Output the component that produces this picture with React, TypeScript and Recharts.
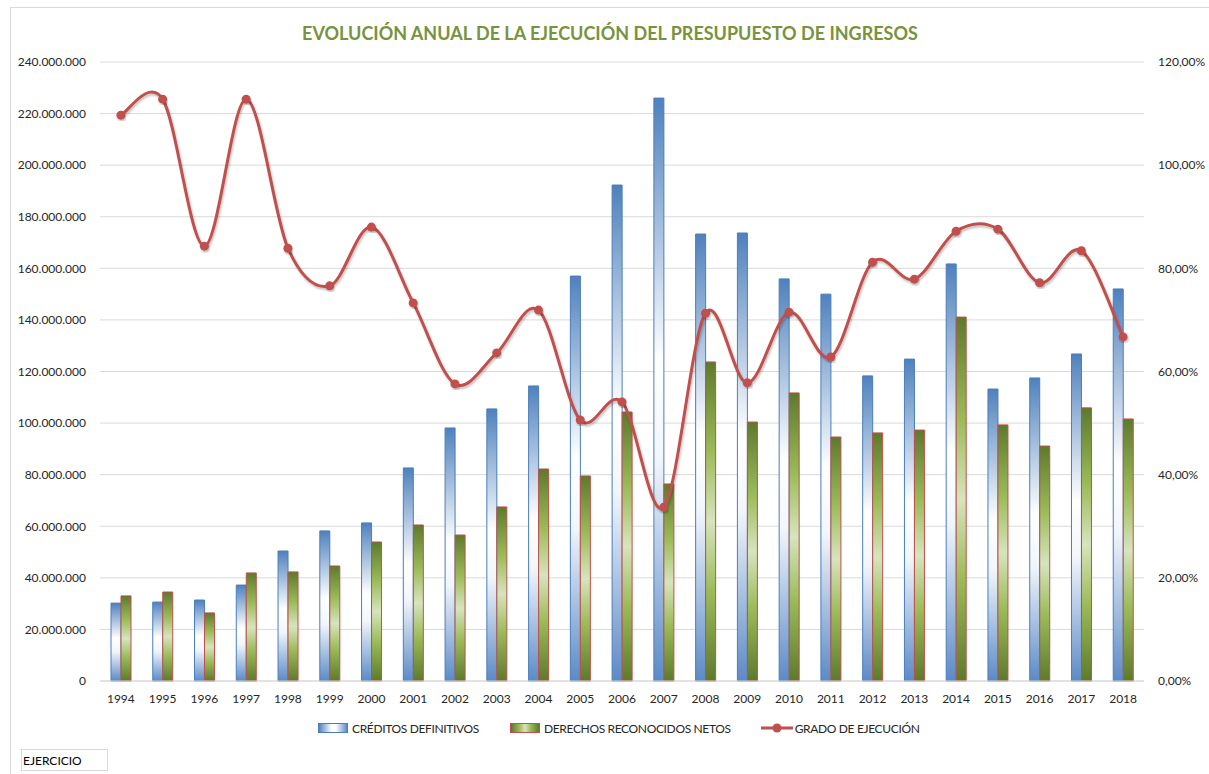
import {
  ComposedChart,
  Bar,
  Line,
  XAxis,
  YAxis,
  CartesianGrid,
  Legend,
} from 'recharts';

const years = [
  '1994', '1995', '1996', '1997', '1998', '1999', '2000', '2001', '2002',
  '2003', '2004', '2005', '2006', '2007', '2008', '2009', '2010', '2011',
  '2012', '2013', '2014', '2015', '2016', '2017', '2018',
];

// créditos definitivos (euros)
const creditos = [
  30200000, 30600000, 31400000, 37200000, 50400000, 58200000, 61300000,
  82600000, 98100000, 105500000, 114400000, 157000000, 192300000, 226000000,
  173300000, 173700000, 155900000, 150000000, 118300000, 124800000, 161700000,
  113200000, 117500000, 126800000, 152000000,
];

// derechos reconocidos netos (euros)
const derechos = [
  33000000, 34500000, 26400000, 41900000, 42300000, 44600000, 53900000,
  60500000, 56600000, 67500000, 82200000, 79500000, 104300000, 76400000,
  123700000, 100400000, 111700000, 94600000, 96200000, 97300000, 141100000,
  99300000, 91100000, 105900000, 101600000,
];

// grado de ejecución (%)
const grado = [
  109.7, 112.8, 84.3, 112.8, 83.9, 76.6, 88.0, 73.3, 57.6, 63.6, 71.9, 50.6,
  54.1, 33.7, 71.3, 57.8, 71.5, 62.8, 81.2, 77.9, 87.2, 87.6, 77.2, 83.4, 66.7,
];

const leftTicks = [0, 20000000, 40000000, 60000000, 80000000, 100000000, 120000000, 140000000, 160000000, 180000000, 200000000, 220000000, 240000000];
const rightTicks = [0, 20, 40, 60, 80, 100, 120];

const data = years.map((y, i) => ({
  year: y,
  creditos: creditos[i],
  derechos: derechos[i],
  grado: grado[i],
}));

const FONT = 'Lato, "Open Sans", sans-serif';
const RED = '#c0504d';

const fmtMiles = (v: number) => String(v).replace(/\B(?=(\d{3})+(?!\d))/g, '.');
const fmtPct = (v: number) => v.toFixed(2).replace('.', ',') + '%';

// suavizado tipo Excel (catmull-rom con tensión 1/6)
const excelSmooth = (context: any) => {
  let xs: number[] = [];
  let ys: number[] = [];
  return {
    areaStart() {},
    areaEnd() {},
    lineStart() {
      xs = [];
      ys = [];
    },
    lineEnd() {
      const n = xs.length;
      if (!n) return;
      context.moveTo(xs[0], ys[0]);
      for (let i = 0; i < n - 1; i++) {
        const a = Math.max(i - 1, 0);
        const d = Math.min(i + 2, n - 1);
        context.bezierCurveTo(
          xs[i] + (xs[i + 1] - xs[a]) / 6,
          ys[i] + (ys[i + 1] - ys[a]) / 6,
          xs[i + 1] - (xs[d] - xs[i]) / 6,
          ys[i + 1] - (ys[d] - ys[i]) / 6,
          xs[i + 1],
          ys[i + 1]
        );
      }
    },
    point(x: number, y: number) {
      xs.push(+x);
      ys.push(+y);
    },
  };
};

const LegendContent = () => (
  <div
    style={{
      display: 'flex',
      alignItems: 'center',
      fontFamily: FONT,
      fontSize: 12,
      letterSpacing: -0.35,
      color: '#262626',
      height: 20,
      whiteSpace: 'nowrap',
    }}
  >
    <span
      style={{
        width: 28,
        height: 8,
        border: '1px solid #4a7ebb',
        background: 'linear-gradient(90deg, #4f81bd, #ffffff 45%, #ffffff 60%, #5b8ac6)',
        marginRight: 4,
      }}
    />
    <span style={{ marginRight: 31 }}>CRÉDITOS DEFINITIVOS</span>
    <span
      style={{
        width: 28,
        height: 8,
        border: `1px solid ${RED}`,
        background: 'linear-gradient(90deg, #5d7a2c, #9bbb59 30%, #d7e4bd 50%, #9bbb59 70%, #5d7a2c)',
        marginRight: 4,
      }}
    />
    <span style={{ marginRight: 30 }}>DERECHOS RECONOCIDOS NETOS</span>
    <svg width={32} height={12} style={{ marginRight: 2 }}>
      <line x1={0} y1={6} x2={32} y2={6} stroke={RED} strokeWidth={3} />
      <circle cx={16} cy={6} r={4.5} fill={RED} />
    </svg>
    <span>GRADO DE EJECUCIÓN</span>
  </div>
);

const App = () => {
  const tick = { fontSize: 12, fill: '#262626', fontFamily: FONT };
  return (
    <div
      style={{
        position: 'absolute',
        left: 0,
        top: 0,
        width: 1209,
        height: 774,
        background: '#fff',
        overflow: 'hidden',
      }}
    >
      <div
        style={{
          position: 'absolute',
          left: 10,
          top: 7,
          width: 1230,
          height: 800,
          borderLeft: '1px solid #d9d9d9',
          borderTop: '1px solid #d9d9d9',
        }}
      />
      <div
        style={{
          position: 'absolute',
          left: 0,
          top: 22,
          width: 1220,
          textAlign: 'center',
          fontFamily: FONT,
          fontWeight: 700,
          fontSize: 18,
          color: '#77933c',
        }}
      >
        EVOLUCIÓN ANUAL DE LA EJECUCIÓN DEL PRESUPUESTO DE INGRESOS
      </div>
      <ComposedChart
        width={1209}
        height={774}
        data={data}
        margin={{ top: 62, right: 0, bottom: 63, left: 0 }}
        barGap={0}
      >
        <defs>
          <linearGradient id="gradBlue" x1="0" y1="0" x2="0" y2="1">
            <stop offset="0%" stopColor="#4f81bd" />
            <stop offset="45%" stopColor="#ffffff" />
            <stop offset="62%" stopColor="#f2f6fb" />
            <stop offset="100%" stopColor="#5b8ac6" />
          </linearGradient>
          <linearGradient id="gradGreen" x1="0" y1="0" x2="0" y2="1">
            <stop offset="0%" stopColor="#5d7a2c" />
            <stop offset="28%" stopColor="#9bbb59" />
            <stop offset="50%" stopColor="#d7e4bd" />
            <stop offset="72%" stopColor="#9bbb59" />
            <stop offset="100%" stopColor="#5d7a2c" />
          </linearGradient>
          <filter id="lineShadow" x="-5%" y="-5%" width="110%" height="120%">
            <feDropShadow dx="1" dy="2" stdDeviation="1" floodColor="#000" floodOpacity="0.25" />
          </filter>
        </defs>
        <CartesianGrid yAxisId="left" vertical={false} stroke="#d9d9d9" />
        <XAxis
          dataKey="year"
          height={30}
          tick={tick}
          tickLine={false}
          tickSize={0}
          tickMargin={13}
          axisLine={{ stroke: '#d9d9d9' }}
          interval={0}
        />
        <YAxis
          yAxisId="left"
          orientation="left"
          width={100}
          domain={[0, 240000000]}
          ticks={leftTicks}
          tickFormatter={fmtMiles}
          tick={tick}
          tickLine={false}
          tickSize={0}
          tickMargin={14}
          axisLine={false}
        />
        <YAxis
          yAxisId="right"
          orientation="right"
          width={65}
          domain={[0, 120]}
          ticks={rightTicks}
          tickFormatter={fmtPct}
          tick={tick}
          tickLine={false}
          tickSize={0}
          tickMargin={14}
          axisLine={false}
        />
        <Legend
          verticalAlign="middle"
          layout="horizontal"
          content={<LegendContent />}
          wrapperStyle={{ top: 718, left: 318, width: 'auto' }}
        />
        <Bar
          yAxisId="left"
          dataKey="creditos"
          name="CRÉDITOS DEFINITIVOS"
          barSize={10}
          fill="url(#gradBlue)"
          stroke="#4a7ebb"
          strokeWidth={1}
          isAnimationActive={false}
        />
        <Bar
          yAxisId="left"
          dataKey="derechos"
          name="DERECHOS RECONOCIDOS NETOS"
          barSize={10}
          fill="url(#gradGreen)"
          stroke={RED}
          strokeWidth={1}
          isAnimationActive={false}
        />
        <Line
          yAxisId="right"
          dataKey="grado"
          name="GRADO DE EJECUCIÓN"
          type={excelSmooth as any}
          stroke={RED}
          strokeWidth={3}
          dot={{ r: 4.5, fill: RED, stroke: RED, strokeWidth: 0 }}
          activeDot={false}
          filter="url(#lineShadow)"
          isAnimationActive={false}
        />
      </ComposedChart>
      <div
        style={{
          position: 'absolute',
          left: 21,
          top: 749,
          width: 84,
          height: 20,
          border: '1px solid #d9d9d9',
          fontFamily: FONT,
          fontSize: 12,
          lineHeight: '22px',
          paddingLeft: 1,
          color: '#000',
          boxSizing: 'content-box',
        }}
      >
        EJERCICIO
      </div>
    </div>
  );
};

export default App;
